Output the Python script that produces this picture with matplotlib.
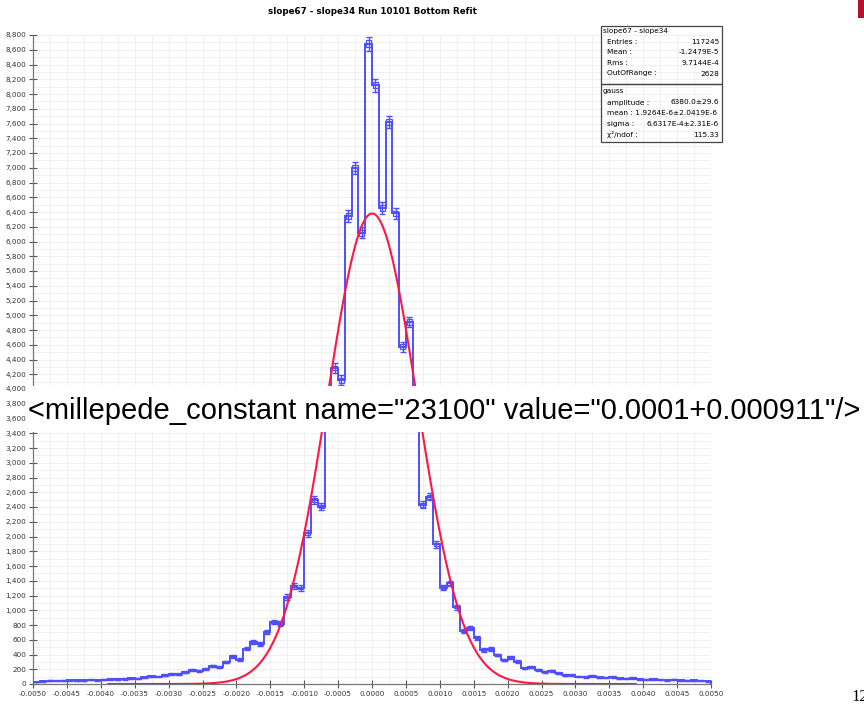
import numpy as np
import matplotlib
matplotlib.use("Agg")
import matplotlib.pyplot as plt
from matplotlib.patches import Rectangle
from matplotlib.ticker import FuncFormatter, MultipleLocator

# histogram: 100 bins from -0.005 to 0.005
x_min, x_max, n_bins = -0.005, 0.005, 100
counts_left = [28, 38, 45, 42, 46, 52, 48, 50, 56, 52,
               58, 66, 62, 68, 78, 74, 90, 105, 100, 118,
               135, 132, 160, 190, 180, 205, 245, 228, 300, 375,
               330, 480, 570, 545, 700, 845, 820, 1180, 1330, 1300,
               2045, 2495, 2405, 3700, 4285, 4120, 6350, 7000, 6120, 8680]
counts_right = [8120, 6450, 7620, 6380, 4570, 4908, 3700, 2430, 2540, 1894,
                1306, 1365, 1040, 723, 755, 620, 461, 475, 393, 325,
                362, 303, 212, 226, 190, 167, 181, 145, 118, 122,
                100, 95, 110, 90, 85, 95, 78, 72, 80, 65,
                60, 65, 55, 52, 58, 48, 45, 50, 42, 38]
counts = np.array(counts_left + counts_right, dtype=float)

# gauss fit parameters (from stats box)
amp, mu, sigma = 6380.0, 1.9264e-6, 6.6317e-4
fit_range = (-0.00389, 0.00389)

stats_top = [("Entries :", "117245"), ("Mean :", "-1.2479E-5"),
             ("Rms :", "9.7144E-4"), ("OutOfRange :", "2628")]
stats_fit = [("amplitude :", "6380.0\u00b129.6"),
             ("mean : 1.9264E-6\u00b12.0419E-6", ""),
             ("sigma :", "6.6317E-4\u00b12.31E-6"),
             ("\u03c7\u00b2/ndof :", "115.33")]

blue = '#4f4fff'
red = '#ff1744'

W, H = 864, 704
fig = plt.figure(figsize=(W / 100, H / 100), dpi=100)
fig.patch.set_facecolor('white')

def fx(px):
    return px / W

def fy(py):
    return 1 - py / H

ax = fig.add_axes([fx(33), fy(684), fx(711) - fx(33), fy(35) - fy(684)])

edges = np.linspace(x_min, x_max, n_bins + 1)
centers = 0.5 * (edges[:-1] + edges[1:])
bw = edges[1] - edges[0]
err = np.sqrt(counts)

# step outline
ax.stairs(counts, edges, color=blue, lw=1.4, zorder=3, baseline=0)
ax.errorbar(centers, counts, yerr=err, fmt='none', ecolor=blue,
            elinewidth=1.0, capsize=2.2, capthick=1.0, zorder=3)
for c, n, e in zip(centers, counts, err):
    ax.add_patch(Rectangle((c - 0.38 * bw, n - e / 2), 0.76 * bw, e,
                           fill=False, edgecolor=blue, lw=0.9, zorder=3))

# gauss fit
xf = np.linspace(fit_range[0], fit_range[1], 600)
ax.plot(xf, amp * np.exp(-0.5 * ((xf - mu) / sigma) ** 2), color=red,
        lw=1.5, zorder=4)

ax.set_xlim(x_min, x_max)
ax.set_ylim(0, 8800)
ax.xaxis.set_major_locator(MultipleLocator(0.0005))
ax.xaxis.set_minor_locator(MultipleLocator(0.00025))
ax.yaxis.set_major_locator(MultipleLocator(200))
ax.yaxis.set_minor_locator(MultipleLocator(100))
ax.xaxis.set_major_formatter(FuncFormatter(
    lambda v, p: "0.0000" if abs(v) < 1e-9 else f"{v:.4f}"))
ax.yaxis.set_major_formatter(FuncFormatter(lambda v, p: f"{int(round(v)):,}"))
ax.tick_params(which='major', direction='inout', length=6, width=0.8,
               color='#555555', labelsize=5.2, labelcolor='#333333', pad=2)
ax.tick_params(which='minor', length=0)
ax.grid(which='both', color='#eeeeee', lw=0.6, zorder=0)
ax.set_axisbelow(True)
for s in ['top', 'right']:
    ax.spines[s].set_visible(False)
for s in ['left', 'bottom']:
    ax.spines[s].set_color('#777777')
    ax.spines[s].set_linewidth(0.9)

fig.text(fx(372), fy(11), "slope67 - slope34 Run 10101 Bottom Refit",
         ha='center', va='center', fontsize=6.3, fontweight='bold')

# stats box
bx = fig.add_axes([fx(601), fy(142), fx(722) - fx(601), fy(26) - fy(142)])
bx.set_xlim(601, 722)
bx.set_ylim(142, 26)
bx.axis('off')
bx.add_patch(Rectangle((601, 26), 121, 58, fill=False, edgecolor='#444444',
                       lw=0.9, clip_on=False))
bx.add_patch(Rectangle((601, 84), 121, 57.5, fill=False, edgecolor='#444444',
                       lw=0.9, clip_on=False))
fs = 5.3
bx.text(603, 31, "slope67 - slope34", fontsize=fs, va='center')
for i, (lab, val) in enumerate(stats_top):
    y = 42 + i * 10.5
    bx.text(607, y, lab, fontsize=fs, va='center')
    bx.text(719, y, val, fontsize=fs, va='center', ha='right')
bx.text(603, 91, "gauss", fontsize=fs, va='center')
for i, (lab, val) in enumerate(stats_fit):
    y = 102.5 + i * 10.8
    bx.text(607, y, lab, fontsize=fs, va='center')
    if val:
        bx.text(719, y, val, fontsize=fs, va='center', ha='right')

# overlay annotation band
fig.patches.append(Rectangle((fx(29), fy(432)), fx(864) - fx(29), fy(386) - fy(432),
                             transform=fig.transFigure, facecolor='white',
                             edgecolor='none', zorder=5))
fig.text(fx(860), fy(411),
         '<millepede_constant name="23100" value="0.0001+0.000911"/>',
         ha='right', va='center', fontsize=21, family='Liberation Sans',
         color='black', zorder=6)

# slide decorations
fig.patches.append(Rectangle((fx(858), fy(18)), fx(8), fy(0) - fy(18),
                             transform=fig.transFigure, facecolor='#b3122a',
                             edgecolor='none', zorder=5))
fig.text(fx(851), fy(697), "12", ha='left', va='center', fontsize=12,
         family='Liberation Serif')

fig.savefig('out.png', dpi=100, facecolor='white')
